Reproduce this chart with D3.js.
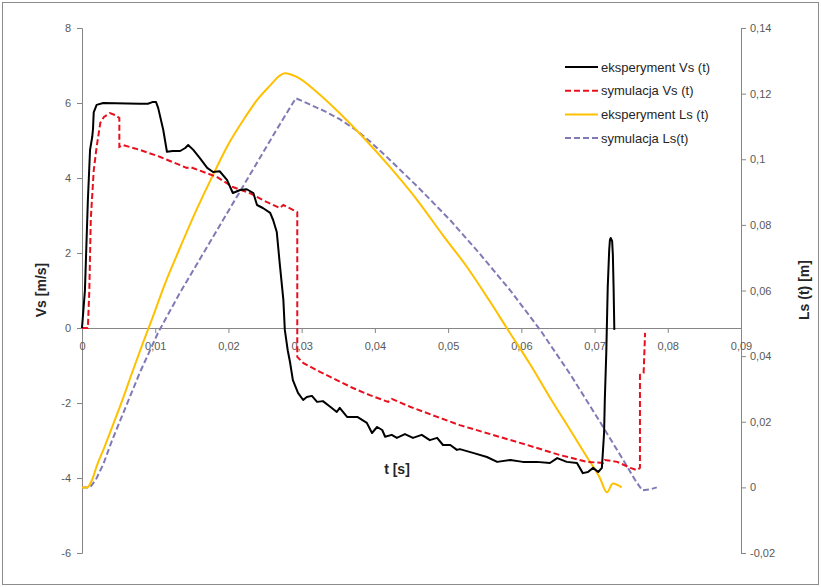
<!DOCTYPE html>
<html>
<head>
<meta charset="utf-8">
<script src="https://cdn.jsdelivr.net/npm/d3@7"></script>
<style>
  body { margin: 0; background: #fff; }
  text { font-family: "Liberation Sans", Arial, sans-serif; }
  .tick text { fill: #595959; font-size: 11px; }
  .axis path, .axis line { stroke: #868686; }
  .axis-title { font-size: 14px; font-weight: bold; fill: #262626; }
  .legend text { font-size: 13px; fill: #262626; }
</style>
</head>
<body>
<div id="chart"></div>
<script>
var svgWidth = 821;
var svgHeight = 587;

var margin = { top: 28, right: 80, bottom: 34, left: 82 };
var width = 741 - margin.left;
var height = 553 - margin.top;

// tick values
var xTicks = [0, 0.01, 0.02, 0.03, 0.04, 0.05, 0.06, 0.07, 0.08, 0.09];
var vsTicks = [-6, -4, -2, 0, 2, 4, 6, 8];
var lsTicks = [-0.02, 0, 0.02, 0.04, 0.06, 0.08, 0.1, 0.12, 0.14];

// series: [t (s), value]
var expVs = [
  [0, 0], [0.0004, 1.0], [0.0008, 3.4], [0.0011, 4.75], [0.0014, 5.1], [0.0015, 5.3],
  [0.0016, 5.75], [0.002, 5.95], [0.0029, 6.0], [0.0079, 5.98], [0.009, 5.98],
  [0.0097, 6.03], [0.0101, 6.03], [0.0104, 5.87], [0.0111, 5.28], [0.0116, 4.7],
  [0.0124, 4.72], [0.0134, 4.72], [0.0141, 4.8], [0.0145, 4.88], [0.0152, 4.75],
  [0.0161, 4.53], [0.0171, 4.27], [0.0179, 4.16], [0.0188, 4.18], [0.0198, 3.95],
  [0.0206, 3.6], [0.0216, 3.68], [0.0225, 3.7], [0.0234, 3.6], [0.0239, 3.28],
  [0.0247, 3.2], [0.0257, 3.07], [0.0261, 2.88], [0.0266, 2.56], [0.027, 1.73],
  [0.0275, 0.75], [0.0277, -0.05], [0.0281, -0.6], [0.0284, -0.9], [0.0288, -1.39],
  [0.0295, -1.73], [0.0302, -1.92], [0.0307, -1.84], [0.0314, -1.81], [0.0321, -1.97],
  [0.0329, -1.95], [0.0339, -2.1], [0.0348, -2.24], [0.0352, -2.13], [0.0362, -2.37],
  [0.0376, -2.37], [0.0389, -2.53], [0.0396, -2.8], [0.0403, -2.64], [0.041, -2.72],
  [0.0414, -2.9], [0.0423, -2.85], [0.043, -2.93], [0.0441, -2.83], [0.0452, -2.93],
  [0.0464, -2.85], [0.0475, -2.99], [0.0485, -2.93], [0.0493, -3.12], [0.0503, -3.12],
  [0.0512, -3.25], [0.0516, -3.23], [0.0534, -3.33], [0.0553, -3.44], [0.0567, -3.57],
  [0.0585, -3.52], [0.0602, -3.57], [0.0621, -3.57], [0.0639, -3.6], [0.0649, -3.47],
  [0.0662, -3.57], [0.0676, -3.6], [0.0684, -3.87], [0.0691, -3.84], [0.0698, -3.73],
  [0.0705, -3.84], [0.071, -3.73], [0.0713, -2.8], [0.0714, -1.92], [0.0716, -0.67],
  [0.0718, 1.09], [0.072, 2.08], [0.0721, 2.35], [0.0722, 2.4], [0.0724, 2.32],
  [0.0725, 1.95], [0.0726, 1.09], [0.0727, -0.05]
];

var simVs = [
  [0, 0], [0.0008, 0], [0.001, 1.0], [0.0012, 2.9], [0.0016, 4.2], [0.002, 4.83],
  [0.0025, 5.47], [0.003, 5.63], [0.0034, 5.68], [0.0038, 5.73], [0.0045, 5.68],
  [0.0051, 5.6], [0.0051, 4.83], [0.0056, 4.88], [0.0079, 4.75], [0.0107, 4.56],
  [0.0143, 4.27], [0.0148, 4.29], [0.0184, 4.03], [0.0206, 3.76], [0.0229, 3.6],
  [0.0247, 3.41], [0.027, 3.2], [0.0275, 3.28], [0.0288, 3.15], [0.0294, 3.09],
  [0.0294, -0.77], [0.0302, -0.93], [0.0325, -1.17], [0.0348, -1.39], [0.037, -1.6],
  [0.0393, -1.79], [0.0418, -1.97], [0.0423, -1.89], [0.0448, -2.1], [0.0485, -2.37],
  [0.0516, -2.59], [0.0561, -2.85], [0.0608, -3.12], [0.0653, -3.39], [0.069, -3.57],
  [0.0712, -3.6], [0.0714, -3.52], [0.0731, -3.57], [0.0749, -3.73], [0.0758, -3.79],
  [0.0762, -3.73], [0.0762, -1.25], [0.0767, -1.2], [0.0769, -0.13]
];

var expLs = [
  [0, 0], [0.0007, 0], [0.0014, 0.0024], [0.002, 0.0064], [0.003, 0.0119], [0.0041, 0.0183],
  [0.0055, 0.0265], [0.0068, 0.0347], [0.0082, 0.0433], [0.0096, 0.0515], [0.0113, 0.0619],
  [0.0134, 0.0731], [0.0156, 0.0844], [0.0178, 0.0948], [0.0199, 0.1042], [0.0221, 0.1122],
  [0.024, 0.1183], [0.0257, 0.1225], [0.0269, 0.1253], [0.0277, 0.1262], [0.0294, 0.125],
  [0.0321, 0.1204], [0.0352, 0.114], [0.0384, 0.1067], [0.0421, 0.0975], [0.0458, 0.0875],
  [0.0493, 0.0768], [0.0526, 0.0671], [0.0557, 0.0567], [0.0582, 0.0479], [0.0612, 0.0375],
  [0.0639, 0.0274], [0.0667, 0.0174], [0.069, 0.0091], [0.0707, 0.003], [0.0717, -0.0015],
  [0.0725, 0.0012], [0.0737, 0.0]
];

var simLs = [
  [0, 0], [0.0011, 0], [0.0019, 0.0024], [0.0029, 0.007], [0.0041, 0.0143], [0.0059, 0.0241],
  [0.0079, 0.035], [0.0104, 0.0472], [0.0134, 0.0594], [0.0168, 0.0722], [0.0202, 0.085],
  [0.0236, 0.0978], [0.0266, 0.1091], [0.0292, 0.1186], [0.0311, 0.1167], [0.0332, 0.1146],
  [0.0352, 0.1122], [0.0373, 0.1091], [0.0393, 0.1055], [0.0421, 0.0997], [0.0462, 0.0908],
  [0.0503, 0.0814], [0.0544, 0.071], [0.0585, 0.06], [0.0626, 0.0479], [0.0667, 0.0344],
  [0.0707, 0.0201], [0.0742, 0.0073], [0.0755, 0.0024], [0.0765, -0.0009], [0.0776, -0.0006],
  [0.0785, 0]
];

var seriesNames = ["eksperyment Vs (t)", "symulacja Vs (t)", "eksperyment Ls (t)", "symulacja Ls(t)"];

var comma = d3.formatLocale({ decimal: ",", thousands: " ", grouping: [3], currency: ["", ""], minus: "-" });
var fmt = comma.format("~g");

var svg = d3.select("#chart").append("svg")
  .attr("width", svgWidth)
  .attr("height", svgHeight);

// outer frame
svg.append("rect")
  .attr("x", 2.5).attr("y", 2.5)
  .attr("width", svgWidth - 5).attr("height", svgHeight - 5)
  .attr("fill", "none").attr("stroke", "#8c8c8c");

var chartGroup = svg.append("g")
  .attr("transform", `translate(${margin.left}, ${margin.top})`);

var x = d3.scaleLinear().domain([0, 0.09]).range([0, width]);
var yVs = d3.scaleLinear().domain([-6, 8]).range([height, 0]);
var yLs = d3.scaleLinear().domain([-0.02, 0.14]).range([height, 0]);

// left axis
chartGroup.append("g")
  .attr("class", "axis")
  .call(d3.axisLeft(yVs).tickValues(vsTicks).tickSize(5).tickPadding(6).tickFormat(fmt));

// right axis
chartGroup.append("g")
  .attr("class", "axis")
  .attr("transform", `translate(${width}, 0)`)
  .call(d3.axisRight(yLs).tickValues(lsTicks).tickSize(5).tickPadding(4).tickFormat(fmt));

// x axis at Vs = 0
chartGroup.append("g")
  .attr("class", "axis")
  .attr("transform", `translate(0, ${yVs(0)})`)
  .call(d3.axisBottom(x).tickValues(xTicks).tickSize(5).tickPadding(9).tickFormat(fmt));

chartGroup.selectAll(".axis .domain").attr("stroke", "#868686");

// axis titles
svg.append("text")
  .attr("class", "axis-title")
  .attr("transform", "translate(46, 290) rotate(-90)")
  .attr("text-anchor", "middle")
  .text("Vs [m/s]");

svg.append("text")
  .attr("class", "axis-title")
  .attr("transform", "translate(809, 290) rotate(-90)")
  .attr("text-anchor", "middle")
  .text("Ls (t) [m]");

svg.append("text")
  .attr("class", "axis-title")
  .attr("x", 397).attr("y", 474)
  .attr("text-anchor", "middle")
  .text("t [s]");

// lines
var lineVs = d3.line().x(d => x(d[0])).y(d => yVs(d[1]));
var lineLsExp = d3.line().x(d => x(d[0])).y(d => yLs(d[1])).curve(d3.curveMonotoneX);
var lineLsSim = d3.line().x(d => x(d[0])).y(d => yLs(d[1]));

var styles = [
  { color: "#000000", dash: null },
  { color: "#e8101e", dash: "6,3" },
  { color: "#ffc000", dash: null },
  { color: "#7f7ab5", dash: "6,3" }
];

chartGroup.append("path").datum(simLs)
  .attr("d", lineLsSim).attr("fill", "none")
  .attr("stroke", styles[3].color).attr("stroke-width", 2).attr("stroke-dasharray", styles[3].dash);

chartGroup.append("path").datum(expLs)
  .attr("d", lineLsExp).attr("fill", "none")
  .attr("stroke", styles[2].color).attr("stroke-width", 2);

chartGroup.append("path").datum(simVs)
  .attr("d", lineVs).attr("fill", "none")
  .attr("stroke", styles[1].color).attr("stroke-width", 2).attr("stroke-dasharray", styles[1].dash);

chartGroup.append("path").datum(expVs)
  .attr("d", lineVs).attr("fill", "none")
  .attr("stroke", styles[0].color).attr("stroke-width", 2).attr("stroke-linejoin", "round");

// legend
var legend = svg.append("g").attr("class", "legend")
  .attr("transform", "translate(565, 67)");

seriesNames.forEach(function(name, i) {
  var g = legend.append("g").attr("transform", `translate(0, ${i * 23.7})`);
  g.append("line")
    .attr("x1", 0).attr("x2", 33).attr("y1", 0).attr("y2", 0)
    .attr("stroke", styles[i].color).attr("stroke-width", 2)
    .attr("stroke-dasharray", styles[i].dash);
  g.append("text").attr("x", 36).attr("y", 4.5).text(name);
});
</script>
</body>
</html>
